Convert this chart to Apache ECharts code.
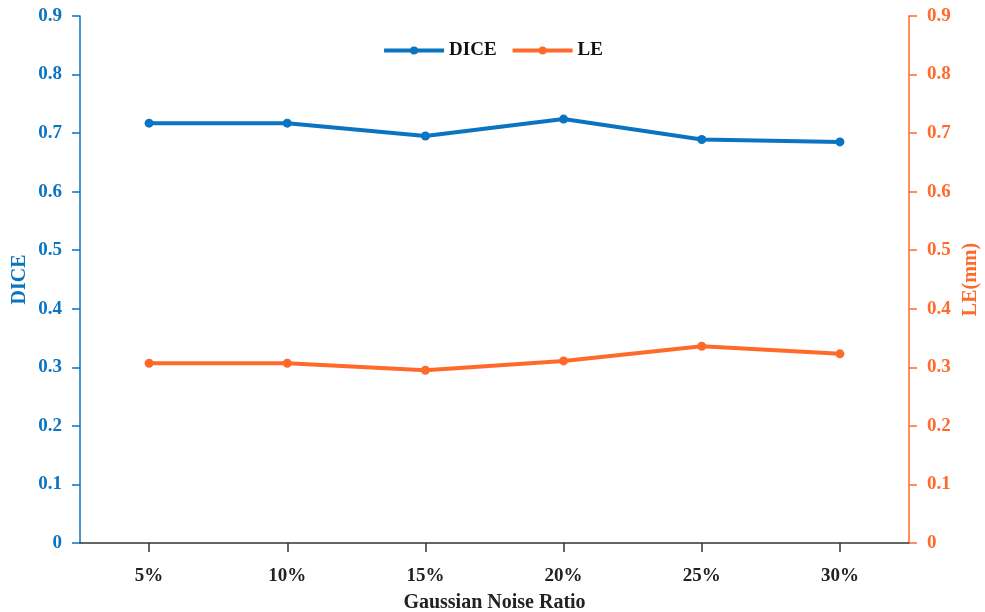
<!DOCTYPE html>
<html>
<head>
<meta charset="utf-8">
<script src="https://cdn.jsdelivr.net/npm/echarts@6/dist/echarts.min.js"></script>
<style>
  html, body { margin: 0; padding: 0; background: #fff; }
  #chart { width: 985px; height: 612px; }
</style>
</head>
<body>
<div id="chart"></div>
<script>
// Noise levels on the x axis
var noiseRatios = ['5%', '10%', '15%', '20%', '25%', '30%'];
// Segmentation overlap (left axis)
var diceValues = [0.717, 0.717, 0.695, 0.724, 0.689, 0.685];
// Localization error in mm (right axis)
var leValues = [0.307, 0.307, 0.295, 0.311, 0.336, 0.323];

var BLUE = '#0b74c0';
var ORANGE = '#ff6a2b';
var FONT = '"Liberation Serif", "Times New Roman", serif';

var chart = echarts.init(document.getElementById('chart'), null, { renderer: 'canvas' });

function valueAxis(color, name, position, gap) {
  return {
    type: 'value',
    position: position,
    min: 0,
    max: 0.9,
    interval: 0.1,
    name: name,
    nameLocation: 'middle',
    nameGap: gap,
    nameMoveOverlap: false,
    nameRotate: 90,
    nameTextStyle: { color: color, fontFamily: FONT, fontWeight: 'bold', fontSize: 20 },
    axisLine: { show: true, lineStyle: { color: color, width: 1.5 } },
    axisTick: { show: true, inside: false, length: 8, lineStyle: { color: color, width: 1.5 } },
    axisLabel: {
      color: color, fontFamily: FONT, fontWeight: 'bold', fontSize: 19, margin: 18,
      formatter: function (v) { return v === 0 ? '0' : v.toFixed(1); }
    },
    splitLine: { show: false }
  };
}

chart.setOption({
  backgroundColor: '#ffffff',
  animation: false,
  grid: { left: 80, right: 76, top: 16, bottom: 69, containLabel: false, outerBoundsMode: 'none' },
  legend: {
    top: 36,
    left: 'center',
    itemWidth: 60,
    itemHeight: 10,
    itemGap: 14,
    lineStyle: { width: 4 },
    textStyle: { color: '#111', fontFamily: FONT, fontWeight: 'bold', fontSize: 19 },
    data: ['DICE', 'LE']
  },
  xAxis: {
    type: 'category',
    data: noiseRatios,
    boundaryGap: true,
    name: 'Gaussian Noise Ratio',
    nameLocation: 'middle',
    nameGap: 50,
    nameTextStyle: { color: '#222', fontFamily: FONT, fontWeight: 'bold', fontSize: 20 },
    axisLine: { show: true, lineStyle: { color: '#333', width: 1.5 } },
    axisTick: { show: true, alignWithLabel: true, length: 9, lineStyle: { color: '#333', width: 1.5 } },
    axisLabel: { color: '#222', fontFamily: FONT, fontWeight: 'bold', fontSize: 19, margin: 24 }
  },
  yAxis: [
    valueAxis(BLUE, 'DICE', 'left', 50),
    valueAxis(ORANGE, 'LE(mm)', 'right', 52)
  ],
  series: [
    {
      name: 'DICE',
      type: 'line',
      yAxisIndex: 0,
      data: diceValues,
      symbol: 'circle',
      symbolSize: 9,
      lineStyle: { color: BLUE, width: 4 },
      itemStyle: { color: BLUE }
    },
    {
      name: 'LE',
      type: 'line',
      yAxisIndex: 1,
      data: leValues,
      symbol: 'circle',
      symbolSize: 9,
      lineStyle: { color: ORANGE, width: 4 },
      itemStyle: { color: ORANGE }
    }
  ]
});
</script>
</body>
</html>
